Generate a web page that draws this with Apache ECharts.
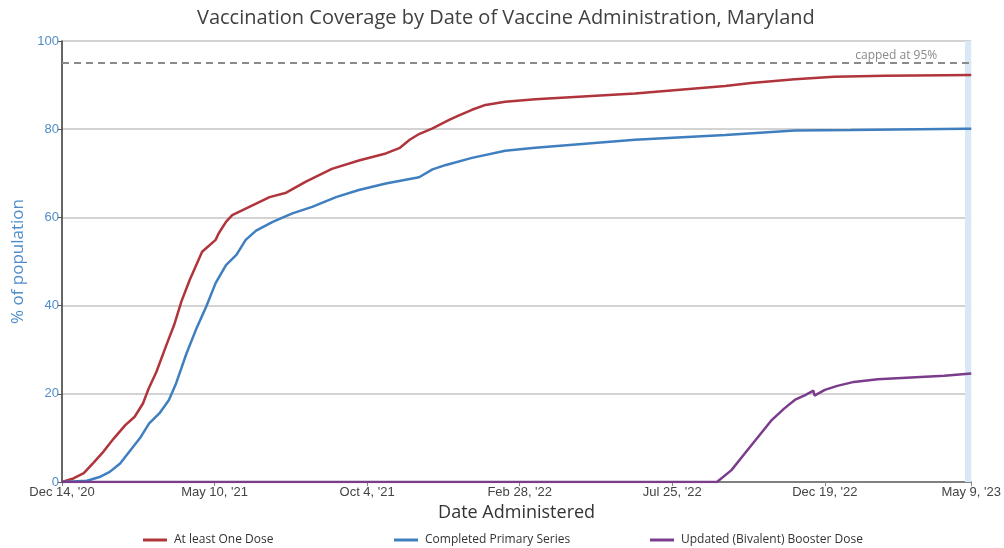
<!DOCTYPE html>
<html>
<head>
<meta charset="utf-8">
<script src="https://cdn.jsdelivr.net/npm/echarts@6/dist/echarts.min.js"></script>
<style>html,body{margin:0;padding:0;background:#fff}#c{width:1004px;height:548px}</style>
</head>
<body>
<div id="c"></div>
<script>
// ---- data ----
const startDate = '2020-12-14';
const endDate = '2023-05-09';
const tickDates = ['2020-12-14','2021-05-10','2021-10-04','2022-02-28','2022-07-25','2022-12-19','2023-05-09'];

const oneDoseDates = ['2020-12-14','2020-12-25','2021-01-04','2021-01-13','2021-01-23','2021-02-02','2021-02-13','2021-02-22','2021-03-02','2021-03-07','2021-03-15','2021-03-24','2021-04-01','2021-04-08','2021-04-16','2021-04-28','2021-05-11','2021-05-14','2021-05-21','2021-05-27','2021-06-16','2021-07-02','2021-07-18','2021-08-06','2021-08-31','2021-09-26','2021-10-22','2021-11-04','2021-11-14','2021-11-23','2021-12-06','2021-12-22','2021-12-31','2022-01-13','2022-01-26','2022-02-14','2022-03-15','2022-06-19','2022-09-14','2022-10-09','2022-11-20','2022-12-28','2023-02-15','2023-05-09'];
const oneDoseValues = [0,0.8,2.0,4.3,6.9,9.9,12.9,14.8,17.8,20.9,25.0,30.7,35.6,40.9,45.8,52.2,54.9,56.4,59.0,60.5,62.8,64.6,65.6,68.1,71.0,72.9,74.5,75.7,77.6,78.9,80.2,82.1,83.1,84.4,85.5,86.2,86.8,88.1,89.8,90.5,91.3,91.9,92.1,92.3];

const primaryDates = ['2020-12-14','2021-01-07','2021-01-20','2021-01-29','2021-02-08','2021-02-17','2021-02-27','2021-03-08','2021-03-18','2021-03-27','2021-04-03','2021-04-13','2021-04-22','2021-05-02','2021-05-11','2021-05-21','2021-05-31','2021-06-09','2021-06-19','2021-07-05','2021-07-24','2021-08-12','2021-09-04','2021-09-26','2021-10-22','2021-11-23','2021-12-06','2021-12-19','2022-01-13','2022-02-14','2022-03-15','2022-06-19','2022-09-14','2022-11-20','2023-01-13','2023-05-03','2023-05-09'];
const primaryValues = [0,0.3,1.2,2.3,4.2,6.9,9.9,13.3,15.6,18.6,22.4,29.2,34.5,39.8,45.1,49.2,51.5,54.9,57.0,59.0,60.9,62.4,64.6,66.2,67.7,69.1,70.9,71.9,73.5,75.1,75.8,77.6,78.7,79.7,79.8,80.1,80.1];

const boosterDates = ['2020-12-14','2022-09-06','2022-09-20','2022-10-03','2022-10-16','2022-10-29','2022-11-10','2022-11-20','2022-11-30','2022-12-08','2022-12-09','2022-12-19','2022-12-31','2023-01-16','2023-02-08','2023-03-12','2023-04-13','2023-05-09'];
const boosterValues = [0,0,2.7,6.5,10.3,14.1,16.7,18.6,19.7,20.7,19.6,20.9,21.8,22.7,23.3,23.7,24.1,24.6];

const seriesNames = ['At least One Dose','Completed Primary Series','Updated (Bivalent) Booster Dose'];
const capValue = 95;
const highlightStart = '2023-05-03';

// ---- helpers ----
const MS = 86400000;
function parse(s){const p=s.split('-').map(Number);return Date.UTC(p[0],p[1]-1,p[2]);}
const t0 = parse(startDate);
function dayOf(s){return Math.round((parse(s)-t0)/MS);}
const months=['Jan','Feb','Mar','Apr','May','Jun','Jul','Aug','Sep','Oct','Nov','Dec'];
function fmt(day){const d=new Date(t0+day*MS);return months[d.getUTCMonth()]+' '+d.getUTCDate()+", '"+String(d.getUTCFullYear()).slice(2);}
function pairs(ds,vs){return ds.map((d,i)=>[dayOf(d),vs[i]]);}
const tickDays = tickDates.map(dayOf);
const maxDay = dayOf(endDate);
const tickInterval = tickDays[1]-tickDays[0];

const chart = echarts.init(document.getElementById('c'));
const legendBase = {orient:'horizontal', top:534, padding:0, icon:'rect', itemWidth:24, itemHeight:3, itemGap:10,
  textStyle:{fontFamily:'Open Sans', fontSize:12, color:'#333', padding:[0,0,0,2]}};
chart.setOption({
  animation:false,
  backgroundColor:'#fff',
  title:{text:'Vaccination Coverage by Date of Vaccine Administration, Maryland', left:192, top:3,
    textStyle:{fontFamily:'Open Sans', fontSize:20, fontWeight:'normal', color:'#404040'}},
  grid:{left:62, right:31, top:41, bottom:66},
  legend:[
    Object.assign({}, legendBase, {left:143, data:[seriesNames[0]]}),
    Object.assign({}, legendBase, {left:394, data:[seriesNames[1]]}),
    Object.assign({}, legendBase, {left:650, data:[seriesNames[2]]})
  ],
  xAxis:{type:'value', min:0, max:maxDay, interval:tickInterval,
    name:'Date Administered', nameLocation:'middle', nameGap:15,
    nameTextStyle:{fontFamily:'Open Sans', fontSize:18, color:'#333'},
    axisLine:{show:true, lineStyle:{color:'#666', width:1.5}},
    axisTick:{show:true, length:4, lineStyle:{color:'#888'}},
    splitLine:{show:false},
    axisLabel:{formatter:v=>fmt(v), fontFamily:'Liberation Sans', fontSize:13, color:'#444', margin:4,
      showMinLabel:true, showMaxLabel:true}
  },
  yAxis:{type:'value', min:0, max:100, interval:20,
    name:'% of population', nameLocation:'middle', nameGap:35,
    nameTextStyle:{fontFamily:'Open Sans', fontSize:17, color:'#4f8dc9'},
    axisLine:{show:true, lineStyle:{color:'#333', width:1.5}},
    axisTick:{show:true, length:4, lineStyle:{color:'#555'}},
    splitLine:{show:true, lineStyle:{color:'#c4c4c4', width:1.5}},
    axisLabel:{fontFamily:'Liberation Sans', fontSize:13, color:'#4f8dc9', margin:3}
  },
  series:[
    {name:seriesNames[0], type:'line', data:pairs(oneDoseDates, oneDoseValues), showSymbol:false,
      color:'#b0343b', lineStyle:{width:2.5, color:'#b0343b'}, z:3,
      markArea:{silent:true, itemStyle:{color:'#d8e8f6'}, data:[[{xAxis:dayOf(highlightStart)},{xAxis:maxDay}]]},
      markLine:{silent:true, symbol:'none', animation:false,
        lineStyle:{type:[7,5], color:'#8a8a8a', width:2},
        label:{show:true, formatter:'capped at 95%', position:'insideEndTop', distance:[34,1],
          fontFamily:'Open Sans', fontSize:12, color:'#8a8a8a'},
        data:[{yAxis:capValue}]}
    },
    {name:seriesNames[1], type:'line', data:pairs(primaryDates, primaryValues), showSymbol:false,
      color:'#3f7fbf', lineStyle:{width:2.5, color:'#3f7fbf'}, z:3},
    {name:seriesNames[2], type:'line', data:pairs(boosterDates, boosterValues), showSymbol:false,
      color:'#7b3c8c', lineStyle:{width:2.5, color:'#7b3c8c'}, z:4}
  ]
});
</script>
</body>
</html>
